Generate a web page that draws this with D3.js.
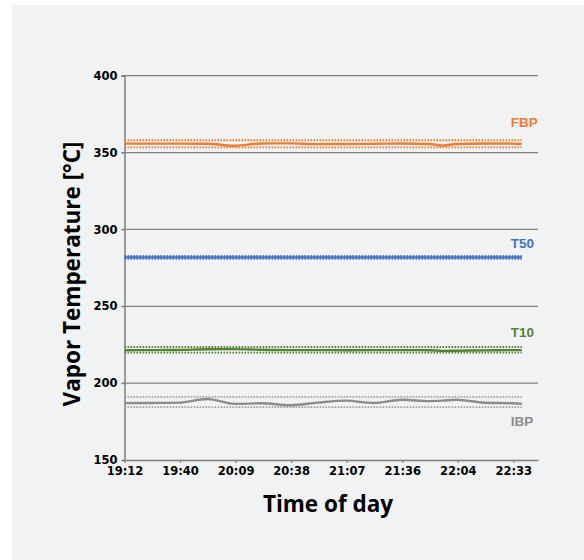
<!DOCTYPE html>
<html><head><meta charset="utf-8">
<script src="https://cdn.jsdelivr.net/npm/d3@7"></script>
<style>body{margin:0;background:#fff}svg{display:block}</style>
</head><body>
<svg id="c" width="584" height="560"></svg>
<script>
const times = ["19:12","19:26","19:40","19:55","20:09","20:23","20:38","20:52","21:07","21:21","21:36","21:50","21:57","22:04","22:19","22:33","22:38"];
const FBP = [355.8,355.8,355.8,355.7,354.4,355.9,356.0,355.5,355.6,355.7,355.9,355.6,354.5,355.6,355.9,355.8,355.6];
const T50 = [281.8,281.8,281.8,281.8,281.8,281.8,281.8,281.8,281.8,281.8,281.8,281.8,281.8,281.8,281.8,281.8,281.8];
const T10 = [221.4,221.5,221.6,222.0,222.1,221.7,221.5,221.5,221.4,221.5,221.5,221.4,221.0,221.1,221.3,221.5,221.5];
const IBP = [187.0,187.1,187.3,189.7,186.5,186.9,185.6,187.3,188.6,187.1,189.2,188.3,188.6,189.2,187.2,186.9,186.6];
const seriesNames = ["FBP","T50","T10","IBP"];
const upperLimits = [358.0,282.7,223.5,191.0];
const lowerLimits = [353.4,280.9,219.8,184.4];
const seriesColors = ["#ED7D31","#4472C4","#548235","#8C8C8C"];
const limitColors = ["#ED7D31","#4472C4","#548235","#A0A0A0"];
const labelValues = [369.4,291.0,233.4,174.9];
const xTickDays = [0.80,0.82,0.84,0.86,0.88,0.90,0.92,0.94];
const xTickLabels = ["19:12","19:40","20:09","20:38","21:07","21:36","22:04","22:33"];
const yTicks = [150,200,250,300,350,400];

const toDay = s => { const [h,m] = s.split(":").map(Number); return (h*60+m)/1440; };
const svg = d3.select("#c");
svg.append("rect").attr("x",12).attr("y",5).attr("width",572).attr("height",555).attr("fill","#F1F2F4");

const L=124.5, R=538, T=75.7, B=460;
const x = d3.scaleLinear().domain([0.80, 0.80+214.4/1440]).range([L,R]);
const y = d3.scaleLinear().domain([150,400]).range([B,T]);

// gridlines
svg.append("g").selectAll("line").data(yTicks.slice(1)).join("line")
  .attr("x1",L-3).attr("x2",R).attr("y1",d=>y(d)).attr("y2",d=>y(d))
  .attr("stroke","#7F7F7F").attr("stroke-width",1.2);

const tickFont = sel => sel.attr("font-family","DejaVu Sans").attr("font-weight","bold")
  .attr("font-size",11.5).attr("fill","#000");

// y axis
const ya = svg.append("g").attr("transform",`translate(${L},0)`)
  .call(d3.axisLeft(y).tickValues(yTicks).tickSize(3).tickPadding(4));
ya.select(".domain").attr("stroke","#7F7F7F").attr("stroke-width",1.5);
ya.selectAll(".tick line").attr("stroke","#7F7F7F").attr("stroke-width",1.2);
ya.selectAll("text").call(tickFont);

// x axis
const xa = svg.append("g").attr("transform",`translate(0,${B})`)
  .call(d3.axisBottom(x).tickValues(xTickDays).tickFormat((d,i)=>xTickLabels[i]).tickSize(3).tickSizeOuter(0).tickPadding(4));
xa.select(".domain").attr("stroke","#7F7F7F").attr("stroke-width",1.5);
xa.selectAll(".tick line").attr("stroke","#7F7F7F").attr("stroke-width",1.2);
xa.selectAll("text").call(tickFont);

const seriesData = [FBP,T50,T10,IBP];
const t0 = toDay(times[0]), t1 = toDay(times[times.length-1]);
const line = d3.line().x(d=>x(d[0])).y(d=>y(d[1])).curve(d3.curveMonotoneX);

seriesNames.forEach((name,i)=>{
  [upperLimits[i], lowerLimits[i]].forEach(v=>{
    svg.append("line").attr("x1",x(t0)).attr("x2",x(t1)).attr("y1",y(v)).attr("y2",y(v))
      .attr("stroke",limitColors[i]).attr("stroke-width",1.8).attr("stroke-dasharray","1.6,1.4");
  });
  svg.append("path").datum(times.map((t,j)=>[toDay(t),seriesData[i][j]]))
    .attr("d",line).attr("fill","none").attr("stroke",seriesColors[i]).attr("stroke-width",2.4);
  svg.append("text").attr("x",x(t1)-11).attr("y",y(labelValues[i])).attr("dy","0.35em")
    .attr("font-family","Liberation Sans").attr("font-weight","bold").attr("font-size",13.5)
    .attr("fill",seriesColors[i]).text(name);
});

// axis titles
svg.append("text").attr("x",328).attr("y",512).attr("text-anchor","middle")
  .attr("font-family","Open Sans").attr("font-weight",700).attr("font-size",22.5).attr("fill","#000").text("Time of day");
svg.append("text").attr("transform","translate(80,274) rotate(-90)").attr("text-anchor","middle")
  .attr("font-family","Open Sans").attr("font-weight",700).attr("font-size",22.5).attr("fill","#000").text("Vapor Temperature [°C]");
</script>
</body></html>
